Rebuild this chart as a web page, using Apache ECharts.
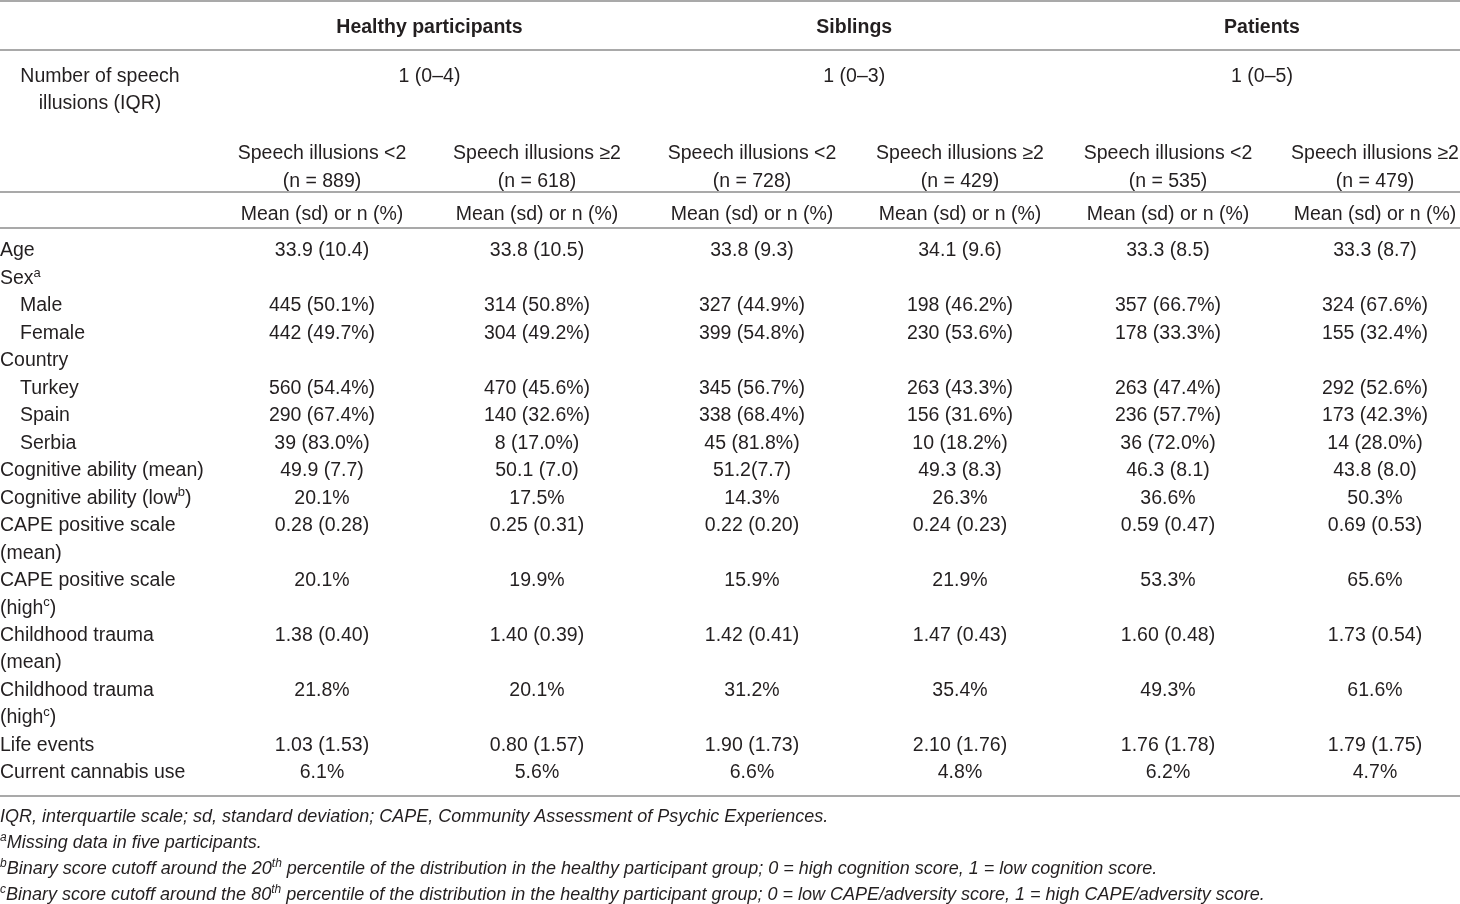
<!DOCTYPE html>
<html>
<head>
<meta charset="utf-8">
<script src="https://cdn.jsdelivr.net/npm/echarts@6/dist/echarts.min.js"></script>
<style>
    html, body {margin: 0; padding: 0; background: #fff;}
    #main {width: 1460px; height: 904px;}
</style>
</head>
<body>
<div id="main"></div>
<script>
    // table content
    var groups = ['Healthy participants', 'Siblings', 'Patients'];
    var iqrLabel = 'Number of speech\nillusions (IQR)';
    var iqrValues = ['1 (0–4)', '1 (0–3)', '1 (0–5)'];
    var subgroups = ['Speech illusions <2', 'Speech illusions ≥2'];
    var groupN = [889, 618, 728, 429, 535, 479];
    var statLabel = 'Mean (sd) or n (%)';

    var rowLabels = [
        'Age', 'Sex^{a}', 'Male', 'Female', 'Country', 'Turkey', 'Spain', 'Serbia',
        'Cognitive ability (mean)', 'Cognitive ability (low^{b})',
        'CAPE positive scale', '(mean)', 'CAPE positive scale', '(high^{c})',
        'Childhood trauma', '(mean)', 'Childhood trauma', '(high^{c})',
        'Life events', 'Current cannabis use'
    ];
    var subRows = ['Male', 'Female', 'Turkey', 'Spain', 'Serbia'];

    var healthyLt2 = ['33.9 (10.4)', '', '445 (50.1%)', '442 (49.7%)', '', '560 (54.4%)', '290 (67.4%)', '39 (83.0%)',
        '49.9 (7.7)', '20.1%', '0.28 (0.28)', '', '20.1%', '', '1.38 (0.40)', '', '21.8%', '', '1.03 (1.53)', '6.1%'];
    var healthyGe2 = ['33.8 (10.5)', '', '314 (50.8%)', '304 (49.2%)', '', '470 (45.6%)', '140 (32.6%)', '8 (17.0%)',
        '50.1 (7.0)', '17.5%', '0.25 (0.31)', '', '19.9%', '', '1.40 (0.39)', '', '20.1%', '', '0.80 (1.57)', '5.6%'];
    var siblingsLt2 = ['33.8 (9.3)', '', '327 (44.9%)', '399 (54.8%)', '', '345 (56.7%)', '338 (68.4%)', '45 (81.8%)',
        '51.2(7.7)', '14.3%', '0.22 (0.20)', '', '15.9%', '', '1.42 (0.41)', '', '31.2%', '', '1.90 (1.73)', '6.6%'];
    var siblingsGe2 = ['34.1 (9.6)', '', '198 (46.2%)', '230 (53.6%)', '', '263 (43.3%)', '156 (31.6%)', '10 (18.2%)',
        '49.3 (8.3)', '26.3%', '0.24 (0.23)', '', '21.9%', '', '1.47 (0.43)', '', '35.4%', '', '2.10 (1.76)', '4.8%'];
    var patientsLt2 = ['33.3 (8.5)', '', '357 (66.7%)', '178 (33.3%)', '', '263 (47.4%)', '236 (57.7%)', '36 (72.0%)',
        '46.3 (8.1)', '36.6%', '0.59 (0.47)', '', '53.3%', '', '1.60 (0.48)', '', '49.3%', '', '1.76 (1.78)', '6.2%'];
    var patientsGe2 = ['33.3 (8.7)', '', '324 (67.6%)', '155 (32.4%)', '', '292 (52.6%)', '173 (42.3%)', '14 (28.0%)',
        '43.8 (8.0)', '50.3%', '0.69 (0.53)', '', '65.6%', '', '1.73 (0.54)', '', '61.6%', '', '1.79 (1.75)', '4.7%'];

    var footnotes = [
        'IQR, interquartile scale; sd, standard deviation; CAPE, Community Assessment of Psychic Experiences.',
        '^{a}Missing data in five participants.',
        '^{b}Binary score cutoff around the 20^{th} percentile of the distribution in the healthy participant group; 0 = high cognition score, 1 = low cognition score.',
        '^{c}Binary score cutoff around the 80^{th} percentile of the distribution in the healthy participant group; 0 = low CAPE/adversity score, 1 = high CAPE/adversity score.'
    ];

    var columns = [healthyLt2, healthyGe2, siblingsLt2, siblingsGe2, patientsLt2, patientsGe2];

    var FONT = '"Liberation Sans", Arial, sans-serif';
    var INK = '#231f20';
    var RULE = '#a9a9a9';
    var SIZE = 19.5;

    // one grid per participant group, two columns each
    var gridLeft = [322, 752, 1168];
    var gridWidth = [215, 208, 207];

    function rich(s) {
        return s.replace(/\^\{(\w+)\}/g, '{sup|$1}');
    }

    var supStyle = {fontFamily: FONT, fontSize: 13, color: INK, verticalAlign: 'top', lineHeight: 15};

    var grids = [], xAxes = [], yAxes = [], series = [];
    groups.forEach(function (g, i) {
        grids.push({left: gridLeft[i], width: gridWidth[i], top: 251, bottom: 131, outerBoundsMode: 'none'});
        xAxes.push({
            gridIndex: i,
            type: 'category',
            boundaryGap: false,
            data: subgroups,
            show: false
        });
        yAxes.push({
            gridIndex: i,
            type: 'category',
            inverse: true,
            boundaryGap: false,
            data: rowLabels.map(function (l, r) { return String(r); }),
            show: i === 0,
            axisLine: {show: false},
            axisTick: {show: false},
            splitLine: {show: false},
            axisLabel: {
                align: 'left',
                margin: gridLeft[0],
                interval: 0,
                fontFamily: FONT,
                fontSize: SIZE,
                color: INK,
                lineHeight: 24,
                formatter: function (v, r) {
                    var s = rich(rowLabels[r]);
                    return subRows.indexOf(rowLabels[r]) > -1 ? '{ind|' + s + '}' : s;
                },
                rich: {
                    sup: supStyle,
                    ind: {fontFamily: FONT, fontSize: SIZE, color: INK, lineHeight: 24, padding: [0, 0, 0, 20]}
                }
            }
        });
        var cells = [];
        [columns[2 * i], columns[2 * i + 1]].forEach(function (col, c) {
            col.forEach(function (txt, r) {
                if (txt) {
                    cells.push({name: txt, value: [c, r]});
                }
            });
        });
        series.push({
            type: 'scatter',
            xAxisIndex: i,
            yAxisIndex: i,
            symbolSize: 1,
            silent: true,
            itemStyle: {color: 'rgba(0,0,0,0)', opacity: 1},
            label: {
                show: true,
                position: 'inside',
                formatter: '{b}',
                fontFamily: FONT,
                fontSize: SIZE,
                color: INK,
                opacity: 1
            },
            emphasis: {disabled: true},
            data: cells
        });
    });

    var option = {
        animation: false,
        backgroundColor: '#fff',
        grid: grids,
        xAxis: xAxes,
        yAxis: yAxes,
        series: series
    };

    var chart = echarts.init(document.getElementById('main'));
    chart.setOption(option);

    var colX = function (c) {
        return chart.convertToPixel({gridIndex: Math.floor(c / 2)}, [c % 2, 0])[0];
    };
    var W = chart.getWidth();

    var text = function (s, x, y, extra) {
        var style = {
            text: s,
            x: x,
            y: y,
            textAlign: 'center',
            textVerticalAlign: 'middle',
            fontFamily: FONT,
            fontSize: SIZE,
            fill: INK
        };
        for (var k in extra) {
            style[k] = extra[k];
        }
        return {type: 'text', silent: true, style: style};
    };
    var rule = function (y) {
        return {type: 'line', silent: true, shape: {x1: 0, y1: y, x2: W, y2: y}, style: {stroke: RULE, lineWidth: 2}};
    };

    var elements = [rule(1), rule(50), rule(192), rule(228), rule(796)];

    groups.forEach(function (g, i) {
        var left = i === 0 ? colX(0) - (colX(1) - colX(0)) / 2 : (colX(2 * i - 1) + colX(2 * i)) / 2;
        var right = i === groups.length - 1 ? W : (colX(2 * i + 1) + colX(2 * i + 2)) / 2;
        var cx = (left + right) / 2;
        elements.push(text(g, cx, 28, {fontWeight: 'bold'}));
        elements.push(text(iqrValues[i], cx, 77));
    });
    elements.push(text(iqrLabel, 100, 90.5, {lineHeight: 27}));

    groupN.forEach(function (n, c) {
        elements.push(text(subgroups[c % 2] + '\n(n = ' + n + ')', colX(c), 168, {lineHeight: 28}));
        elements.push(text(statLabel, colX(c), 215));
    });

    footnotes.forEach(function (f, i) {
        elements.push(text(rich(f), 0, 817 + i * 26, {
            textAlign: 'left',
            fontStyle: 'italic',
            fontSize: 18,
            lineHeight: 22,
            rich: {sup: {fontFamily: FONT, fontSize: 12, fontStyle: 'italic', fill: INK, verticalAlign: 'top', lineHeight: 13}}
        }));
    });

    chart.setOption({graphic: {elements: elements}});
</script>
</body>
</html>
